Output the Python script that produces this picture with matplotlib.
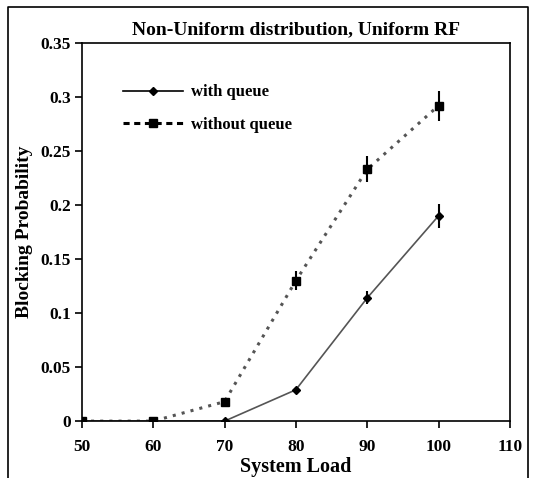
import matplotlib
matplotlib.use("Agg")
import matplotlib.pyplot as plt
from matplotlib.lines import Line2D

# data
load = [50, 60, 70, 80, 90, 100]
with_queue = [0.0, 0.0, 0.0, 0.029, 0.114, 0.190]
with_queue_err = [0.0, 0.0, 0.0, 0.002, 0.006, 0.011]
without_queue = [0.0, 0.0, 0.018, 0.130, 0.233, 0.292]
without_queue_err = [0.0, 0.0, 0.002, 0.009, 0.012, 0.014]

x_ticks = [50, 60, 70, 80, 90, 100, 110]
y_ticks = [0, 0.05, 0.1, 0.15, 0.2, 0.25, 0.3, 0.35]
y_tick_labels = ["0", "0.05", "0.1", "0.15", "0.2", "0.25", "0.3", "0.35"]

plt.rcParams['font.family'] = ['Liberation Serif', 'DejaVu Serif']
plt.rcParams['font.weight'] = 'bold'

fig = plt.figure(figsize=(5.35, 4.78), dpi=100)
ax = fig.add_axes([0.153, 0.119, 0.80, 0.791])

ax.errorbar(load, with_queue, yerr=with_queue_err, color='#555555', lw=1.2,
            marker='D', ms=4, mfc='black', mec='black', ecolor='black',
            elinewidth=1.5, capsize=0)
ax.errorbar(load, without_queue, yerr=without_queue_err, color='#555555', lw=2.2,
            ls=(0, (1, 2)), marker='s', ms=6, mfc='black', mec='black',
            ecolor='black', elinewidth=1.5, capsize=0)

ax.set_xlim(50, 110)
ax.set_ylim(0, 0.35)
ax.set_xticks(x_ticks)
ax.set_yticks(y_ticks)
ax.set_yticklabels(y_tick_labels)
ax.tick_params(direction='out', length=5, width=1.2, labelsize=12.5, pad=3)
ax.tick_params(axis='x', pad=8)
for s in ax.spines.values():
    s.set_linewidth(1.2)

ax.set_xlabel('System Load', fontsize=14.5, fontweight='bold', labelpad=1)
ax.set_ylabel('Blocking Probability', fontsize=14, fontweight='bold', labelpad=5)
ax.set_title('Non-Uniform distribution, Uniform RF', fontsize=14,
             fontweight='bold', pad=6)

handles = [
    Line2D([], [], color='black', lw=1.2, marker='D', ms=4),
    Line2D([], [], color='black', lw=2.2, ls=(0, (2, 1.5)), marker='s', ms=6),
]
ax.legend(handles, ['with queue', 'without queue'], loc='upper left',
          bbox_to_anchor=(0.06, 0.93), frameon=False, fontsize=12,
          handlelength=3.6, handletextpad=0.5, labelspacing=1.0, numpoints=1)

# frame around the figure (left, top, right)
fig.add_artist(Line2D([0.015, 0.015, 0.987, 0.987], [0.0, 0.985, 0.985, 0.0],
                      transform=fig.transFigure, color='black', lw=1.2))

fig.savefig('out.png', dpi=100)
